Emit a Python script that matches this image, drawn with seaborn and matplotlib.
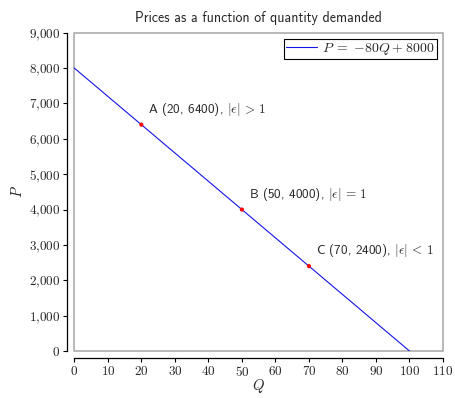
import matplotlib
matplotlib.use("Agg")
import matplotlib.pyplot as plt
import seaborn as sns
import pandas as pd
from matplotlib.patches import Rectangle
from matplotlib.ticker import FuncFormatter, MultipleLocator

# Demand line endpoints and labelled points
line_q = [0, 100]
line_p = [8000, 0]
point_names = ["A", "B", "C"]
point_q = [20, 50, 70]
point_p = [6400, 4000, 2400]
point_elasticity = [r"|\epsilon|\,>\,1", r"|\epsilon|\,=\,1", r"|\epsilon|\,<\,1"]

sns.set_style("ticks")
plt.rcParams["mathtext.fontset"] = "cm"
plt.rcParams["font.family"] = ["DejaVu Sans"]
SANS = ["cmss10", "DejaVu Sans"]

fig = plt.figure(figsize=(4.55, 3.98), dpi=100)
ax = fig.add_axes([0.1633, 0.1181, 0.8103, 0.7997])

line_df = pd.DataFrame({"Q": line_q, "P": line_p})
pts_df = pd.DataFrame({"Q": point_q, "P": point_p})

sns.lineplot(data=line_df, x="Q", y="P", ax=ax, color="#1414e6", linewidth=0.8,
             label=r"$P\;=\;{-}80Q\:+\:8000$")
sns.scatterplot(data=pts_df, x="Q", y="P", ax=ax, color="red", s=9,
                edgecolor="none", zorder=5)

for name, q, p, el in zip(point_names, point_q, point_p, point_elasticity):
    ax.annotate("%s (%d, %d), $%s$" % (name, q, p, el),
                xy=(q, p), xytext=(5, 11), textcoords="offset points",
                ha="left", va="center", fontsize=9.5, family=SANS)

ax.set_xlim(0, 110)
ax.set_ylim(0, 9000)
ax.xaxis.set_major_locator(MultipleLocator(10))
ax.yaxis.set_major_locator(MultipleLocator(1000))
ax.xaxis.set_major_formatter(FuncFormatter(lambda v, _: r"$%d$" % v))
ax.yaxis.set_major_formatter(
    FuncFormatter(lambda v, _: r"$%s$" % f"{int(v):,}".replace(",", "{,}")))
ax.tick_params(axis="both", labelsize=9.5, length=3, width=0.8, color="black",
               direction="out", pad=2)

# Offset black axis lines plus a gray frame around the data area
for side in ("top", "right"):
    ax.spines[side].set_visible(False)
for side in ("left", "bottom"):
    ax.spines[side].set_position(("outward", 5))
    ax.spines[side].set_color("black")
    ax.spines[side].set_linewidth(0.9)
ax.add_patch(Rectangle((0, 0), 1, 1, transform=ax.transAxes, fill=False,
                       edgecolor="#a6a6a6", linewidth=1.1, clip_on=False,
                       zorder=0))

ax.set_xlabel(r"$Q$", fontsize=10.5, labelpad=-1)
ax.set_ylabel(r"$P$", fontsize=10.5, labelpad=3)
ax.set_title("Prices as a function of quantity demanded", fontsize=10,
             pad=8, family=SANS)

leg = ax.legend(loc="upper right", fontsize=10, frameon=True, fancybox=False,
                edgecolor="black", framealpha=1, handlelength=2.2,
                handletextpad=0.4, borderpad=0.15, borderaxespad=0.45)
leg.get_frame().set_linewidth(0.8)

fig.savefig("out.png", dpi=100)
